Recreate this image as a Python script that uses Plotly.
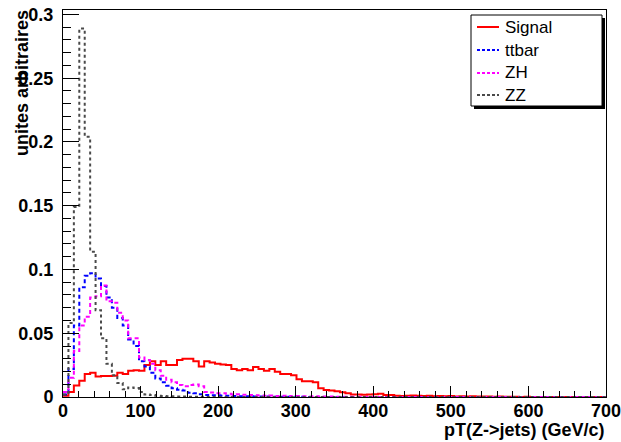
import numpy as np
import plotly.graph_objects as go

# ---- data: 100 bins of 7 GeV from 0 to 700 GeV ----
bin_lo = 0.0
bin_hi = 700.0
n_bins = 100

signal = [0.001, 0.004, 0.009, 0.0128, 0.018, 0.019, 0.016, 0.0164, 0.0165, 0.0167,
          0.019, 0.018, 0.0205, 0.021, 0.0206, 0.025, 0.028, 0.025, 0.028, 0.025,
          0.025, 0.029, 0.030, 0.030, 0.028, 0.024, 0.028, 0.027, 0.026, 0.0255,
          0.025, 0.022, 0.021, 0.022, 0.021, 0.0235, 0.022, 0.0206, 0.022, 0.0198,
          0.018, 0.018, 0.017, 0.014, 0.0123, 0.0123, 0.0115, 0.0068, 0.0055, 0.005,
          0.0045, 0.0037, 0.003, 0.002, 0.002, 0.0018, 0.002, 0.0022, 0.0025, 0.0015,
          0.0015, 0.001, 0.0008, 0.001, 0.0012, 0.001, 0.0008, 0.001, 0.0006, 0.0008,
          0.0005, 0.0008, 0.0004, 0.0006, 0.0004, 0.0005, 0.0003, 0.0004, 0.0003, 0.0002,
          0.0003, 0.0002, 0.0001, 0.0002, 0.0, 0.0001, 0.0, 0.0, 0.0, 0.0,
          0.0, 0.0, 0.0, 0.0, 0.0, 0.0, 0.0, 0.0, 0.0, 0.0]

ttbar = [0.002, 0.022, 0.056, 0.086, 0.095, 0.097, 0.093, 0.087, 0.078, 0.070,
         0.062, 0.056, 0.045, 0.040, 0.028, 0.024, 0.019, 0.0146, 0.0115, 0.0089,
         0.0068, 0.0057, 0.005, 0.0034, 0.0029, 0.0021, 0.0016, 0.0013, 0.0013, 0.001,
         0.0009, 0.0008, 0.0006, 0.0005, 0.0005, 0.0004, 0.0003, 0.0003, 0.0002, 0.0002,
         0.0002, 0.0001, 0.0001, 0.0001, 0.0001, 0.0, 0.0, 0.0, 0.0, 0.0,
         0.0, 0.0, 0.0, 0.0, 0.0, 0.0, 0.0, 0.0, 0.0, 0.0,
         0.0, 0.0, 0.0, 0.0, 0.0, 0.0, 0.0, 0.0, 0.0, 0.0,
         0.0, 0.0, 0.0, 0.0, 0.0, 0.0, 0.0, 0.0, 0.0, 0.0,
         0.0, 0.0, 0.0, 0.0, 0.0, 0.0, 0.0, 0.0, 0.0, 0.0,
         0.0, 0.0, 0.0, 0.0, 0.0, 0.0, 0.0, 0.0, 0.0, 0.0]

zh = [0.004, 0.015, 0.036, 0.056, 0.063, 0.078, 0.079, 0.0875, 0.075, 0.074,
      0.066, 0.060, 0.046, 0.046, 0.031, 0.029, 0.026, 0.021, 0.0167, 0.0135,
      0.0115, 0.0095, 0.0085, 0.0095, 0.0098, 0.0085, 0.004, 0.0035, 0.003, 0.003,
      0.0025, 0.002, 0.0022, 0.0018, 0.0015, 0.0014, 0.0012, 0.001, 0.0012, 0.0008,
      0.0009, 0.0007, 0.0006, 0.0008, 0.0005, 0.0004, 0.0005, 0.0003, 0.0004, 0.0003,
      0.0002, 0.0002, 0.0001, 0.0001, 0.0001, 0.0, 0.0, 0.0, 0.0, 0.0,
      0.0, 0.0, 0.0, 0.0, 0.0, 0.0, 0.0, 0.0, 0.0, 0.0,
      0.0, 0.0, 0.0, 0.0, 0.0, 0.0, 0.0, 0.0, 0.0, 0.0,
      0.0, 0.0, 0.0, 0.0, 0.0, 0.0, 0.0, 0.0, 0.0, 0.0,
      0.0, 0.0, 0.0, 0.0, 0.0, 0.0, 0.0, 0.0, 0.0, 0.0]

zz = [0.002, 0.058, 0.149, 0.289, 0.204, 0.114, 0.068, 0.046, 0.026, 0.017,
      0.011, 0.006, 0.0075, 0.007, 0.004, 0.002, 0.0015, 0.001, 0.0008, 0.0006,
      0.0005, 0.0004, 0.0003, 0.0002, 0.0002, 0.0001, 0.0, 0.0, 0.0, 0.0,
      0.0, 0.0, 0.0, 0.0, 0.0, 0.0, 0.0, 0.0, 0.0, 0.0,
      0.0, 0.0, 0.0, 0.0, 0.0, 0.0, 0.0, 0.0, 0.0, 0.0,
      0.0, 0.0, 0.0, 0.0, 0.0, 0.0, 0.0, 0.0, 0.0, 0.0,
      0.0, 0.0, 0.0, 0.0, 0.0, 0.0, 0.0, 0.0, 0.0, 0.0,
      0.0, 0.0, 0.0, 0.0, 0.0, 0.0, 0.0, 0.0, 0.0, 0.0,
      0.0, 0.0, 0.0, 0.0, 0.0, 0.0, 0.0, 0.0, 0.0, 0.0,
      0.0, 0.0, 0.0, 0.0, 0.0, 0.0, 0.0, 0.0, 0.0, 0.0]

series_names = ["Signal", "ttbar", "ZH", "ZZ"]
series_colors = ["#ff0000", "#0000ff", "#ff00ff", "#4a4a4a"]
series_dash = ["solid", "4px,3px", "4px,3px", "3px,3px"]
x_title = "pT(Z->jets) (GeV/c)"
y_title = "unites arbitraires"

# ---- layout geometry (pixels) ----
W, H = 621, 442
L, R, T, B = 63, 606, 10, 397
y_max = 0.3035

edges = np.linspace(bin_lo, bin_hi, n_bins + 1)

fig = go.Figure()
for name, vals, col, dash in zip(series_names, [signal, ttbar, zh, zz],
                                 series_colors, series_dash):
    v = list(vals)
    fig.add_trace(go.Scatter(
        x=edges, y=v + [v[-1]], mode="lines", name=name,
        line=dict(color=col, width=2, dash=dash, shape="hv"),
        showlegend=False, hoverinfo="skip"))

def px(xp):
    return (xp - L) / (R - L)

def py(yp):
    return (B - yp) / (B - T)

shapes = []
annotations = []
# legend shadow + box
shapes.append(dict(type="rect", xref="paper", yref="paper",
                   x0=px(474), x1=px(605), y0=py(109), y1=py(18),
                   fillcolor="black", line=dict(width=0), layer="above"))
shapes.append(dict(type="rect", xref="paper", yref="paper",
                   x0=px(471), x1=px(602), y0=py(106), y1=py(15),
                   fillcolor="white", line=dict(color="black", width=1), layer="above"))
entry_y = [27, 50, 73, 95]
for name, col, dash, ey in zip(series_names, series_colors, series_dash, entry_y):
    shapes.append(dict(type="line", xref="paper", yref="paper",
                       x0=px(477), x1=px(499), y0=py(ey), y1=py(ey),
                       line=dict(color=col, width=2,
                                 dash="solid" if dash == "solid" else "3px,2px"),
                       layer="above"))
    annotations.append(dict(text=name, xref="paper", yref="paper",
                            x=px(503), y=py(ey), xanchor="left", yanchor="middle",
                            showarrow=False,
                            font=dict(family="Liberation Sans, Arial", size=17, color="black")))

# axis titles
annotations.append(dict(text=x_title, xref="paper", yref="paper",
                        x=px(607), y=py(430), xanchor="right", yanchor="middle",
                        showarrow=False,
                        font=dict(family="Liberation Sans, Arial", size=18, color="black",
                                  weight="bold")))
annotations.append(dict(text=y_title, xref="paper", yref="paper",
                        x=px(22), y=py(8), xanchor="center", yanchor="top",
                        textangle=-90, showarrow=False,
                        font=dict(family="Liberation Sans, Arial", size=18, color="black",
                                  weight="bold")))

tickfont = dict(family="Liberation Sans, Arial", size=18, color="black", weight="bold")

fig.update_layout(
    width=W, height=H,
    margin=dict(l=L, r=W - R, t=T, b=H - B, pad=0, autoexpand=False),
    paper_bgcolor="white", plot_bgcolor="white",
    shapes=shapes, annotations=annotations,
    xaxis=dict(range=[bin_lo, bin_hi], dtick=100, tick0=0, automargin=False,
               ticks="inside", ticklen=11, tickwidth=1, tickcolor="black",
               minor=dict(dtick=20, ticks="inside", ticklen=6, tickcolor="black", tickwidth=1),
               showline=True, linecolor="black", linewidth=1, mirror=True,
               showgrid=False, zeroline=False, tickfont=tickfont,
               ticklabeloverflow="allow", ticklabelstandoff=-3),
    yaxis=dict(range=[0, y_max], dtick=0.05, tick0=0, automargin=False,
               ticks="inside", ticklen=16, tickwidth=1, tickcolor="black",
               minor=dict(dtick=0.01, ticks="inside", ticklen=8, tickcolor="black", tickwidth=1),
               showline=True, linecolor="black", linewidth=1, mirror=True,
               showgrid=False, zeroline=False, tickfont=tickfont,
               tickformat="~g", ticklabelstandoff=5),
)

fig.write_html(
    "out.html", config={"displayModeBar": False},
    post_script=("document.documentElement.style.overflow='hidden';"
                 "document.body.style.overflow='hidden';"
                 "document.body.style.margin='0px';document.body.style.padding='0px';"))
